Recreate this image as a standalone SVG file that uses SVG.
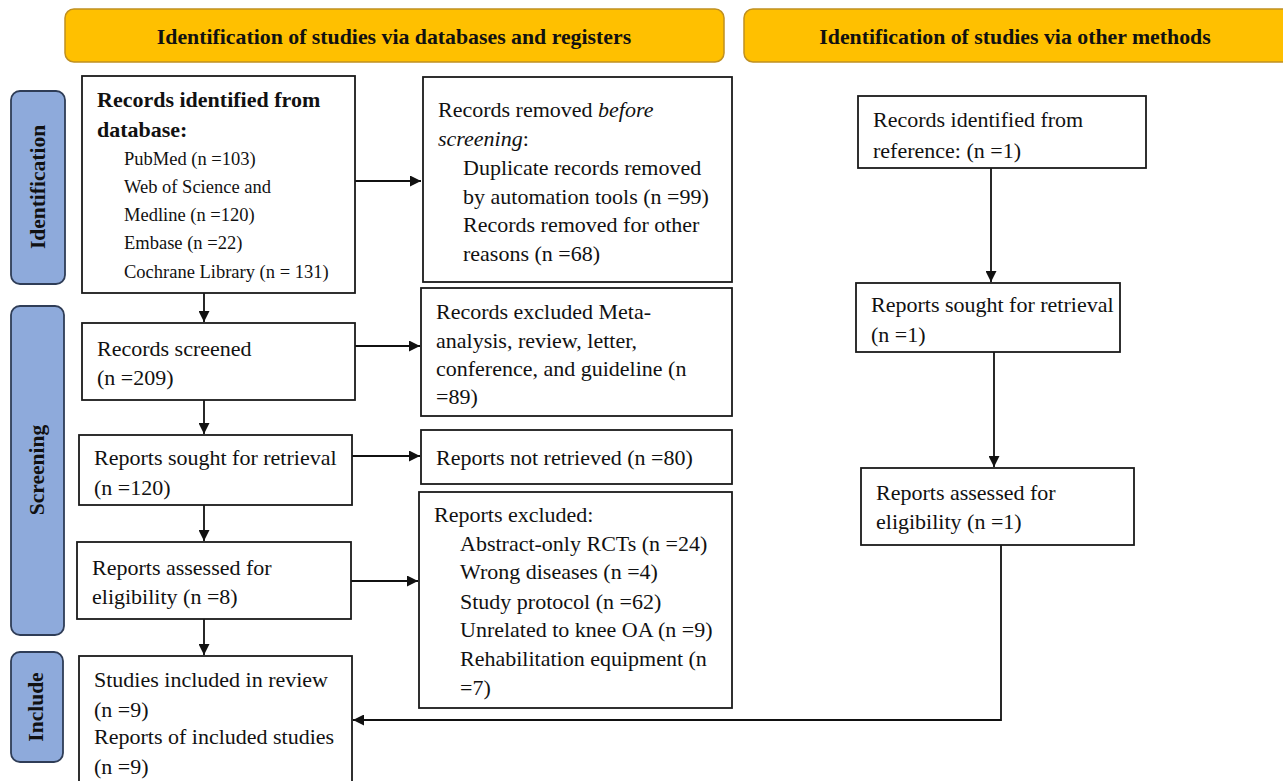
<svg xmlns="http://www.w3.org/2000/svg" width="1283" height="781" viewBox="0 0 1283 781">
<style>
.box{fill:#fff;stroke:#1a1a1a;stroke-width:1.8}
.hdr{fill:#FFC000;stroke:#C09020;stroke-width:1.5}
.side{fill:#8EAADB;stroke:#2F3D57;stroke-width:1.8}
text{font-family:"Liberation Serif","Times New Roman",serif;fill:#111}
.t{font-size:22px}
.s{font-size:18.5px}
.b{font-weight:bold}
.h{font-size:21.8px;font-weight:bold}
.v{font-size:21.5px;font-weight:bold}
.c{fill:none;stroke:#111;stroke-width:1.8}
</style>
<defs>
<marker id="ah" viewBox="0 0 10 10" refX="10" refY="5" markerWidth="11" markerHeight="11" markerUnits="userSpaceOnUse" orient="auto">
<path d="M0,0 L10,5 L0,10 z" fill="#111"/>
</marker>
</defs>
<rect width="1283" height="781" fill="#fff"/>

<g id="header-db">
<rect class="hdr" x="65" y="9" width="659" height="53" rx="9"/>
<text class="h" x="394" y="44" text-anchor="middle">Identification of studies via databases and registers</text>
</g>
<g id="header-other">
<rect class="hdr" x="744" y="9" width="560" height="53" rx="9"/>
<text class="h" x="1015" y="44" text-anchor="middle">Identification of studies via other methods</text>
</g>

<g id="phase-identification">
<rect class="side" x="11" y="91" width="54" height="193" rx="9"/>
<text class="v" transform="translate(45,187) rotate(-90)" text-anchor="middle">Identification</text>
</g>
<g id="phase-screening">
<rect class="side" x="11" y="306" width="53" height="329" rx="9"/>
<text class="v" transform="translate(44,470) rotate(-90)" text-anchor="middle">Screening</text>
</g>
<g id="phase-include">
<rect class="side" x="11" y="652" width="52" height="110" rx="9"/>
<text class="v" transform="translate(43,707) rotate(-90)" text-anchor="middle">Include</text>
</g>

<g id="connectors">
<line class="c" x1="355" y1="181" x2="421" y2="181" marker-end="url(#ah)"/>
<line class="c" x1="204" y1="293" x2="204" y2="322" marker-end="url(#ah)"/>
<line class="c" x1="355" y1="346" x2="420" y2="346" marker-end="url(#ah)"/>
<line class="c" x1="204" y1="400" x2="204" y2="434" marker-end="url(#ah)"/>
<line class="c" x1="352" y1="456" x2="420" y2="456" marker-end="url(#ah)"/>
<line class="c" x1="204" y1="505" x2="204" y2="541" marker-end="url(#ah)"/>
<line class="c" x1="351" y1="581" x2="418" y2="581" marker-end="url(#ah)"/>
<line class="c" x1="204" y1="619" x2="204" y2="655" marker-end="url(#ah)"/>
<line class="c" x1="991" y1="168" x2="991" y2="282" marker-end="url(#ah)"/>
<line class="c" x1="994" y1="352" x2="994" y2="467" marker-end="url(#ah)"/>
<polyline class="c" points="1001,545 1001,720 353,720" marker-end="url(#ah)"/>
</g>

<g id="records-identified">
<rect class="box" x="82" y="76" width="273" height="217"/>
<text class="t b" x="97" y="107">Records identified from</text>
<text class="t b" x="97" y="137">database:</text>
<text class="s" x="124" y="165">PubMed (n =103)</text>
<text class="s" x="124" y="193">Web of Science and</text>
<text class="s" x="124" y="221">Medline (n =120)</text>
<text class="s" x="124" y="249">Embase (n =22)</text>
<text class="s" x="124" y="278">Cochrane Library (n = 131)</text>
</g>

<g id="records-removed">
<rect class="box" x="423" y="77" width="309" height="205"/>
<text class="t" x="438" y="117">Records removed <tspan font-style="italic">before</tspan></text>
<text class="t" x="438" y="146"><tspan font-style="italic">screening</tspan>:</text>
<text class="t" x="463" y="175">Duplicate records removed</text>
<text class="t" x="463" y="204">by automation tools (n =99)</text>
<text class="t" x="463" y="232">Records removed for other</text>
<text class="t" x="463" y="261">reasons (n =68)</text>
</g>

<g id="records-screened">
<rect class="box" x="82" y="323" width="273" height="77"/>
<text class="t" x="97" y="356">Records screened</text>
<text class="t" x="97" y="385">(n =209)</text>
</g>

<g id="records-excluded">
<rect class="box" x="421" y="288" width="311" height="128"/>
<text class="t" x="436" y="319">Records excluded Meta-</text>
<text class="t" x="436" y="348">analysis, review, letter,</text>
<text class="t" x="436" y="376">conference, and guideline (n</text>
<text class="t" x="436" y="404">=89)</text>
</g>

<g id="reports-sought">
<rect class="box" x="79" y="435" width="273" height="70"/>
<text class="t" x="94" y="465">Reports sought for retrieval</text>
<text class="t" x="94" y="495">(n =120)</text>
</g>

<g id="reports-not-retrieved">
<rect class="box" x="421" y="430" width="311" height="54"/>
<text class="t" x="436" y="465">Reports not retrieved (n =80)</text>
</g>

<g id="reports-assessed">
<rect class="box" x="77" y="542" width="274" height="77"/>
<text class="t" x="92" y="575">Reports assessed for</text>
<text class="t" x="92" y="604">eligibility (n =8)</text>
</g>

<g id="reports-excluded">
<rect class="box" x="419" y="492" width="313" height="216"/>
<text class="t" x="434" y="522">Reports excluded:</text>
<text class="t" x="460" y="551">Abstract-only RCTs (n =24)</text>
<text class="t" x="460" y="579">Wrong diseases (n =4)</text>
<text class="t" x="460" y="609">Study protocol (n =62)</text>
<text class="t" x="460" y="637">Unrelated to knee OA (n =9)</text>
<text class="t" x="460" y="666">Rehabilitation equipment (n</text>
<text class="t" x="460" y="695">=7)</text>
</g>

<g id="studies-included">
<rect class="box" x="79" y="656" width="273" height="140"/>
<text class="t" x="94" y="687">Studies included in review</text>
<text class="t" x="94" y="717">(n =9)</text>
<text class="t" x="94" y="744">Reports of included studies</text>
<text class="t" x="94" y="774">(n =9)</text>
</g>

<g id="other-records-identified">
<rect class="box" x="858" y="96" width="288" height="72"/>
<text class="t" x="873" y="127">Records identified from</text>
<text class="t" x="873" y="158">reference: (n =1)</text>
</g>

<g id="other-reports-sought">
<rect class="box" x="856" y="283" width="264" height="69"/>
<text class="t" x="871" y="312">Reports sought for retrieval</text>
<text class="t" x="871" y="342">(n =1)</text>
</g>

<g id="other-reports-assessed">
<rect class="box" x="861" y="468" width="273" height="77"/>
<text class="t" x="876" y="500">Reports assessed for</text>
<text class="t" x="876" y="529">eligibility (n =1)</text>
</g>
</svg>
